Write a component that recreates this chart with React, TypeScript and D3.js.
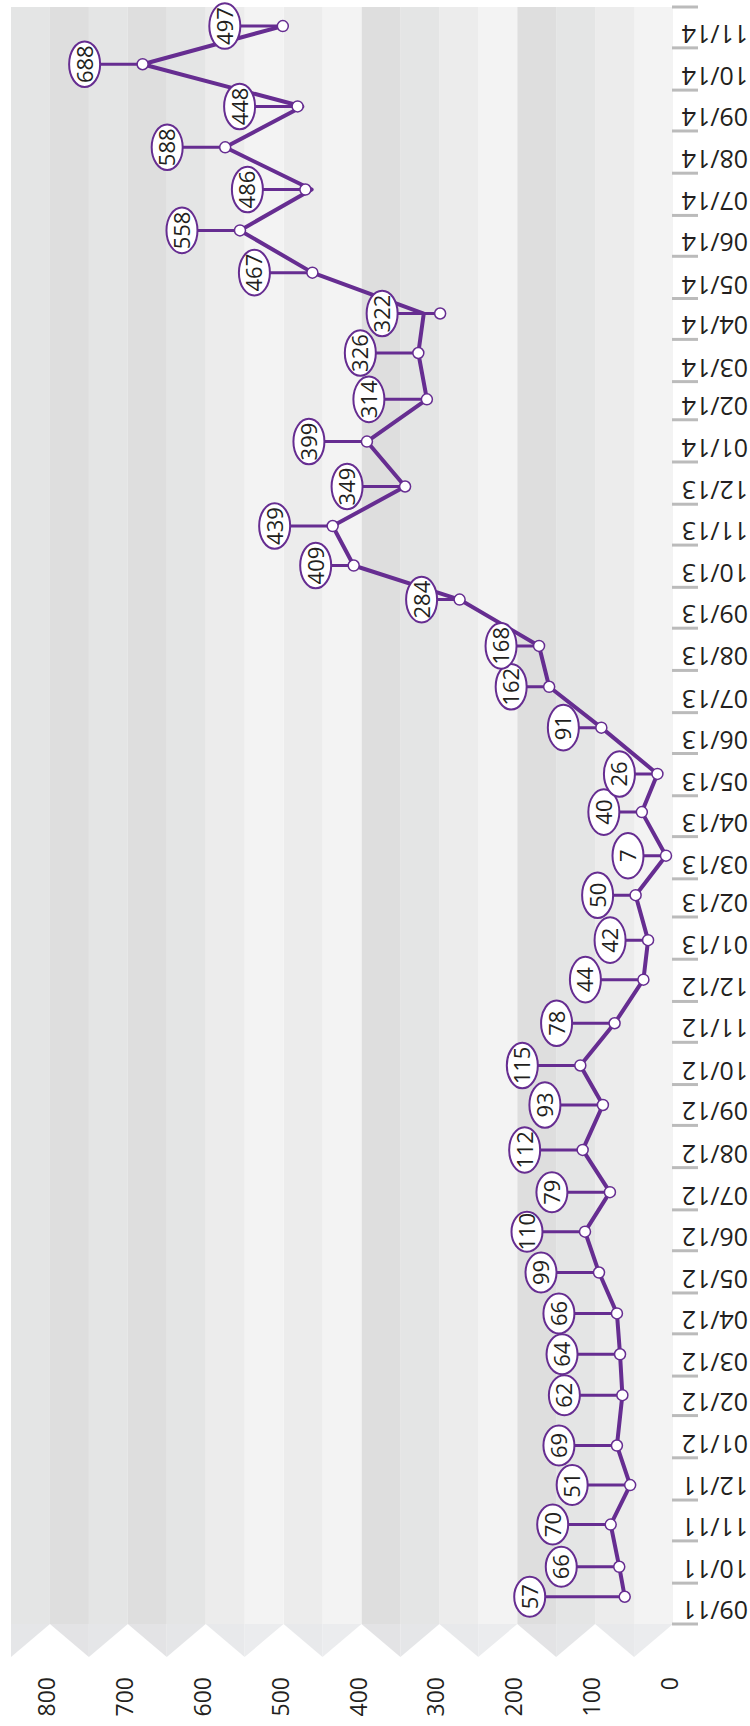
import React from "react";
import * as d3 from "d3";

// ---- data ----
const pointDates = [
  "2011-09-21", "2011-10-13", "2011-11-13", "2011-12-12",
  "2012-01-10", "2012-02-16", "2012-03-17", "2012-04-16", "2012-05-16", "2012-06-15",
  "2012-07-14", "2012-08-14", "2012-09-16", "2012-10-15", "2012-11-15", "2012-12-17",
  "2013-01-15", "2013-02-17", "2013-03-18", "2013-04-19", "2013-05-17", "2013-06-20",
  "2013-07-20", "2013-08-19", "2013-09-22", "2013-10-17", "2013-11-15", "2013-12-14",
  "2014-01-16", "2014-02-16", "2014-03-22", "2014-04-20", "2014-05-20", "2014-06-20",
  "2014-07-20", "2014-08-20", "2014-09-19", "2014-10-20", "2014-11-17",
];

// position of the circle markers
const pointValues = [
  62, 69, 80, 55,
  72, 65, 68, 72, 95, 113,
  81, 116, 90, 119, 75, 38,
  32, 48, 9, 40, 20, 92,
  159, 172, 274, 410, 437, 344,
  393, 316, 327, 299, 463, 556,
  472, 575, 482, 681, 501,
];

// vertices of the connecting line
const lineValues = [
  62, 69, 80, 55,
  72, 65, 68, 72, 95, 113,
  81, 116, 90, 119, 75, 38,
  32, 48, 9, 40, 20, 92,
  159, 172, 274, 410, 437, 344,
  393, 316, 327, 320, 463, 556,
  464, 575, 476, 681, 501,
];

// numbers written in the bubbles
const bubbleLabels = [
  57, 66, 70, 51,
  69, 62, 64, 66, 99, 110,
  79, 112, 93, 115, 78, 44,
  42, 50, 7, 40, 26, 91,
  162, 168, 284, 409, 439, 349,
  399, 314, 326, 322, 467, 558,
  486, 588, 448, 688, 497,
];

const valueTicks = [0, 100, 200, 300, 400, 500, 600, 700, 800];
const axisStart = "2011-09-01";
const axisEnd = "2014-12-01";

// band fills from value 0 upward, 50 units each
const bandColors = [
  "#f3f3f3", "#ececec", "#e4e5e5", "#dedede",
  "#f3f3f3", "#ececec", "#e4e5e5", "#dedede",
  "#f3f3f3", "#ececec", "#f3f3f3", "#ececec",
  "#e4e5e5", "#dedede", "#e4e5e5", "#dedede", "#e4e5e5",
];

// ---- layout ----
const W = 750;
const H = 1726;
const PLOT_TOP = 7;
const PLOT_BOTTOM = 1624;
const PLOT_LEFT = 11;
const PLOT_RIGHT = 673;
const ZIG_BOTTOM = 1657;
const PURPLE = "#662d91";
const TEXT = "#231f20";
const FONT = "'Open Sans', 'Noto Sans', sans-serif";

const labelGap = (i: number) => (i === 0 ? 95 : i >= 16 && i <= 25 ? 38 : 58);
const bubbleRy = (i: number) => (i <= 10 ? 20 : 22.8);

export default function App() {
  const parse = d3.timeParse("%Y-%m-%d");
  const x = d3.scaleLinear().domain([0, 850]).range([PLOT_RIGHT, PLOT_LEFT]);
  const y = d3
    .scaleTime()
    .domain([parse(axisStart)!, parse(axisEnd)!])
    .range([PLOT_BOTTOM, PLOT_TOP]);

  const dates = pointDates.map((d) => parse(d)!);
  const months = d3.timeMonth.range(parse(axisStart)!, d3.timeDay.offset(parse(axisEnd)!, 1));
  const fmt = d3.timeFormat("%m/%y");

  const line = d3
    .line<number>()
    .x((v) => x(v))
    .y((_, i) => y(dates[i]))
    .curve(d3.curveLinear);

  const bands = bandColors.map((c, k) => ({ k, c, lo: k * 50, hi: k * 50 + 50 }));
  const zigFill = (c: string) => d3.interpolateRgb(c, "#e6e7ea")(0.6);

  return (
    <svg
      width={W}
      height={H}
      style={{ position: "absolute", left: 0, top: 0, background: "#fff" }}
      fontFamily={FONT}
    >
      {/* background bands */}
      {bands.map((b) => (
        <rect
          key={"b" + b.k}
          x={x(b.hi)}
          y={PLOT_TOP}
          width={x(b.lo) - x(b.hi)}
          height={PLOT_BOTTOM - PLOT_TOP}
          fill={b.c}
        />
      ))}
      {/* zigzag fold below the plot */}
      {bands.map((b) => {
        const loTop = (b.lo / 50) % 2 === 0;
        const pts = loTop
          ? [
              [x(b.lo), PLOT_BOTTOM],
              [x(b.hi), PLOT_BOTTOM],
              [x(b.hi), ZIG_BOTTOM],
            ]
          : [
              [x(b.lo), PLOT_BOTTOM],
              [x(b.hi), PLOT_BOTTOM],
              [x(b.lo), ZIG_BOTTOM],
            ];
        return (
          <polygon
            key={"z" + b.k}
            points={pts.map((p) => p.join(",")).join(" ")}
            fill={zigFill(b.c)}
          />
        );
      })}

      {/* month ticks */}
      {months.map((m, i) => (
        <line
          key={"t" + i}
          x1={672}
          x2={698}
          y1={y(m)}
          y2={y(m)}
          stroke="#bbbbbb"
          strokeWidth={3}
        />
      ))}
      {/* month labels */}
      {months.slice(0, -1).map((m, i) => (
        <text
          key={"ml" + i}
          transform={`translate(748,${y(m) - 23}) rotate(180)`}
          textAnchor="start"
          fontSize={25}
          fill={TEXT}
        >
          {fmt(m)}
        </text>
      ))}

      {/* value labels */}
      {valueTicks.map((v) => (
        <text
          key={"v" + v}
          transform={`translate(${x(v) - 3},1677) rotate(-90)`}
          textAnchor="end"
          dy="0.35em"
          fontSize={23}
          fill={TEXT}
        >
          {v}
        </text>
      ))}

      {/* main line */}
      <path
        d={line(lineValues) || ""}
        fill="none"
        stroke={PURPLE}
        strokeWidth={4}
        strokeLinejoin="round"
        strokeLinecap="round"
      />

      {/* stems */}
      {pointValues.map((v, i) => {
        const cx = x(v);
        const ex = cx - labelGap(i);
        return (
          <line
            key={"s" + i}
            x1={ex}
            x2={cx}
            y1={y(dates[i])}
            y2={y(dates[i])}
            stroke={PURPLE}
            strokeWidth={3}
          />
        );
      })}

      {/* bubbles */}
      {pointValues.map((v, i) => {
        const cx = x(v) - labelGap(i);
        const cy = y(dates[i]);
        return (
          <g key={"e" + i}>
            <ellipse cx={cx} cy={cy} rx={15.5} ry={bubbleRy(i)} fill="#fff" stroke={PURPLE} strokeWidth={2} />
            <text
              transform={`translate(${cx},${cy}) rotate(-90)`}
              textAnchor="middle"
              dy="0.36em"
              fontSize={22}
              fill={TEXT}
            >
              {bubbleLabels[i]}
            </text>
          </g>
        );
      })}

      {/* circle markers */}
      {pointValues.map((v, i) => (
        <circle
          key={"c" + i}
          cx={x(v)}
          cy={y(dates[i])}
          r={5.5}
          fill="#fff"
          stroke={PURPLE}
          strokeWidth={1.5}
        />
      ))}
    </svg>
  );
}
